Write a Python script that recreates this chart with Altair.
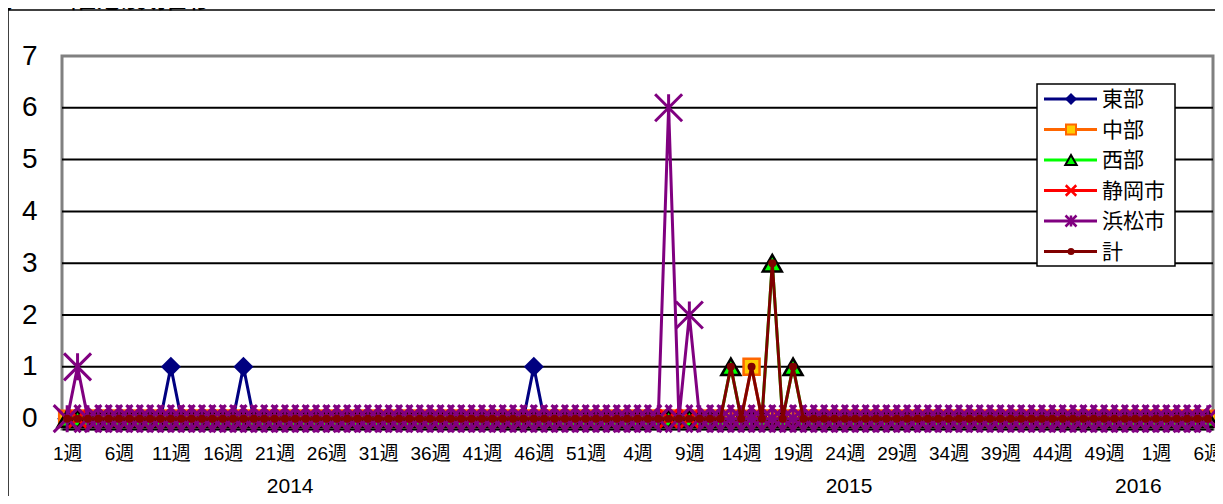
import json
import altair as alt
import pandas as pd

# ---------------- data ----------------
title_text = "式S70罹患数推移"
year_list = ["2014", "2015", "2016"]
weeks_per_year = [52, 53, 6]

cat_year, cat_week = [], []
for yr, n in zip(year_list, weeks_per_year):
    for w in range(1, n + 1):
        cat_year.append(yr)
        cat_week.append(w)
week_labels = [f"{w}週" for w in cat_week]
n_cat = len(week_labels)
tick_index = list(range(0, n_cat, 5))

series_names = ["東部", "中部", "西部", "静岡市", "浜松市", "計"]
# non-zero readings (year, week) -> count ; every other week reads 0 in the picture
tobu = {("2014", 11): 1, ("2014", 18): 1, ("2014", 46): 1}
chubu = {("2015", 15): 1}
seibu = {("2015", 13): 1, ("2015", 17): 3, ("2015", 19): 1}
shizuoka = {}
hamamatsu = {("2014", 2): 1, ("2015", 7): 6, ("2015", 9): 2}
total = {("2015", 13): 1, ("2015", 15): 1, ("2015", 17): 3, ("2015", 19): 1}
readings = [tobu, chubu, seibu, shizuoka, hamamatsu, total]

y_ticks = [0, 1, 2, 3, 4, 5, 6, 7]
grid_vals = [0, 1, 2, 3, 4, 5, 6]
year_label_anchor = [21.5, 75.4, 103.3]  # category position under which Excel wrote the year

rows = []
for name, rd in zip(series_names, readings):
    for i, (yr, w) in enumerate(zip(cat_year, cat_week)):
        rows.append({"series": name, "idx": i, "value": rd.get((yr, w), 0)})
df = pd.DataFrame(rows)

# ---------------- styles ----------------
XPATH = "M-1,-1L1,1M-1,1L1,-1"
ASTER = "M-1,-1L1,1M-1,1L1,-1M0,-1L0,1"
styles = {
    "東部": dict(color="#000080", shape="diamond", size=400, lsize=144, fill="#000080", stroke="#000080", sw=0),
    "中部": dict(color="#FF6600", shape="square", size=256, lsize=100, fill="#FFCC00", stroke="#FF6600", sw=2.5),
    "西部": dict(color="#00FF00", shape="triangle-up", size=361, lsize=130, fill="#00FF00", stroke="#000000", sw=2.5),
    "静岡市": dict(color="#FF0000", shape=XPATH, size=324, lsize=110, fill=None, stroke="#FF0000", sw=3),
    "浜松市": dict(color="#800080", shape=ASTER, size=729, lsize=121, fill=None, stroke="#800080", sw=3),
    "計": dict(color="#800000", shape="circle", size=64, lsize=49, fill="#800000", stroke="#800000", sw=0),
}

FONT = "Liberation Sans, Noto Sans CJK JP"
W, H = 1151, 373
xscale = alt.Scale(domain=[-0.5, n_cat - 0.5], nice=False, zero=False)
yscale = alt.Scale(domain=[-0.2, 7], nice=False, zero=False)

label_expr = json.dumps(week_labels, ensure_ascii=False) + "[round(datum.value)]"
x_axis = alt.Axis(values=tick_index, labelExpr=label_expr, title=None, ticks=False,
                  grid=False, domain=True, domainColor="#000000", domainWidth=2,
                  labelFont=FONT, labelFontSize=19, labelColor="#000000",
                  labelPadding=15, labelOverlap=False, labelFlush=False)
y_axis = alt.Axis(values=y_ticks, title=None, ticks=False, grid=False, domain=False,
                  labelFont=FONT, labelFontSize=28, labelColor="#000000", labelPadding=25)

def X(field):
    return alt.X(field, scale=xscale, axis=x_axis)

def Y(field):
    return alt.Y(field, scale=yscale, axis=y_axis)

layers = []

# gridlines
grid_df = pd.DataFrame({"value": grid_vals})
layers.append(alt.Chart(grid_df).mark_rule(color="#000000", strokeWidth=2).encode(y=Y("value:Q")))

# series
for name in series_names:
    st = styles[name]
    base = alt.Chart(df).transform_filter(alt.datum.series == name)
    layers.append(base.mark_line(color=st["color"], strokeWidth=3, strokeJoin="miter").encode(
        x=X("idx:Q"), y=Y("value:Q")))
    if st["fill"] is None:
        pm = base.mark_point(shape=st["shape"], size=st["size"], filled=False,
                             stroke=st["stroke"], strokeWidth=st["sw"], opacity=1)
    else:
        pm = base.mark_point(shape=st["shape"], size=st["size"], filled=True,
                             fill=st["fill"], stroke=st["stroke"], strokeWidth=st["sw"], opacity=1)
    layers.append(pm.encode(x=X("idx:Q"), y=Y("value:Q")))

# year labels
year_df = pd.DataFrame({"year": year_list, "idx": year_label_anchor})
layers.append(
    alt.Chart(year_df).mark_text(font=FONT, fontSize=21, color="#000000", baseline="middle", align="center").encode(
        x=X("idx:Q"), y=alt.value(431), text="year:N"
    )
)

# outer chart frame (left and top edges)
one_row = pd.DataFrame({"a": [0]})
layers.append(alt.Chart(one_row).mark_rule(color="#000000", strokeWidth=1.5).encode(
    x=alt.value(-54), y=alt.value(-46), y2=alt.value(440)))
layers.append(alt.Chart(one_row).mark_rule(color="#000000", strokeWidth=1.5).encode(
    x=alt.value(-54), x2=alt.value(1160), y=alt.value(-46)))

# title (mostly cut off at the top edge, as in the reference)
layers.append(
    alt.Chart(pd.DataFrame({"t": [title_text]})).mark_text(
        font=FONT, fontSize=30, color="#000000", align="left", baseline="alphabetic"
    ).encode(x=alt.value(-79), y=alt.value(-49), text="t:N")
)

# legend
lx0, lx1, ly0, ly1 = 975, 1113, 28, 210
layers.append(
    alt.Chart(one_row).mark_rect(fill="#FFFFFF", stroke="#000000", strokeWidth=1.5).encode(
        x=alt.value(lx0), x2=alt.value(lx1), y=alt.value(ly0), y2=alt.value(ly1)
    )
)
for i, name in enumerate(series_names):
    st = styles[name]
    ly = 43 + 30.5 * i
    one = alt.Chart(pd.DataFrame({"series": [name]}))
    layers.append(one.mark_rule(color=st["color"], strokeWidth=3).encode(
        x=alt.value(982), x2=alt.value(1035), y=alt.value(ly)))
    if st["fill"] is None:
        lp = one.mark_point(shape=st["shape"], size=st["lsize"], filled=False,
                            stroke=st["stroke"], strokeWidth=2.5, opacity=1)
    else:
        lp = one.mark_point(shape=st["shape"], size=st["lsize"], filled=True, fill=st["fill"],
                            stroke=st["stroke"], strokeWidth=min(st["sw"], 2), opacity=1)
    layers.append(lp.encode(x=alt.value(1009), y=alt.value(ly)))
    layers.append(one.mark_text(font=FONT, fontSize=21, color="#000000", align="left", baseline="middle").encode(
        x=alt.value(1040), y=alt.value(ly + 1), text="series:N"))

chart = alt.layer(*layers).properties(
    width=W, height=H,
    padding={"left": 54, "top": 48, "right": 2, "bottom": 67},
    autosize=alt.AutoSizeParams(type="none"),
    background="#FFFFFF",
).configure_view(stroke="#808080", strokeWidth=3)

chart.save("out.html", embed_options={"renderer": "svg", "actions": False})
